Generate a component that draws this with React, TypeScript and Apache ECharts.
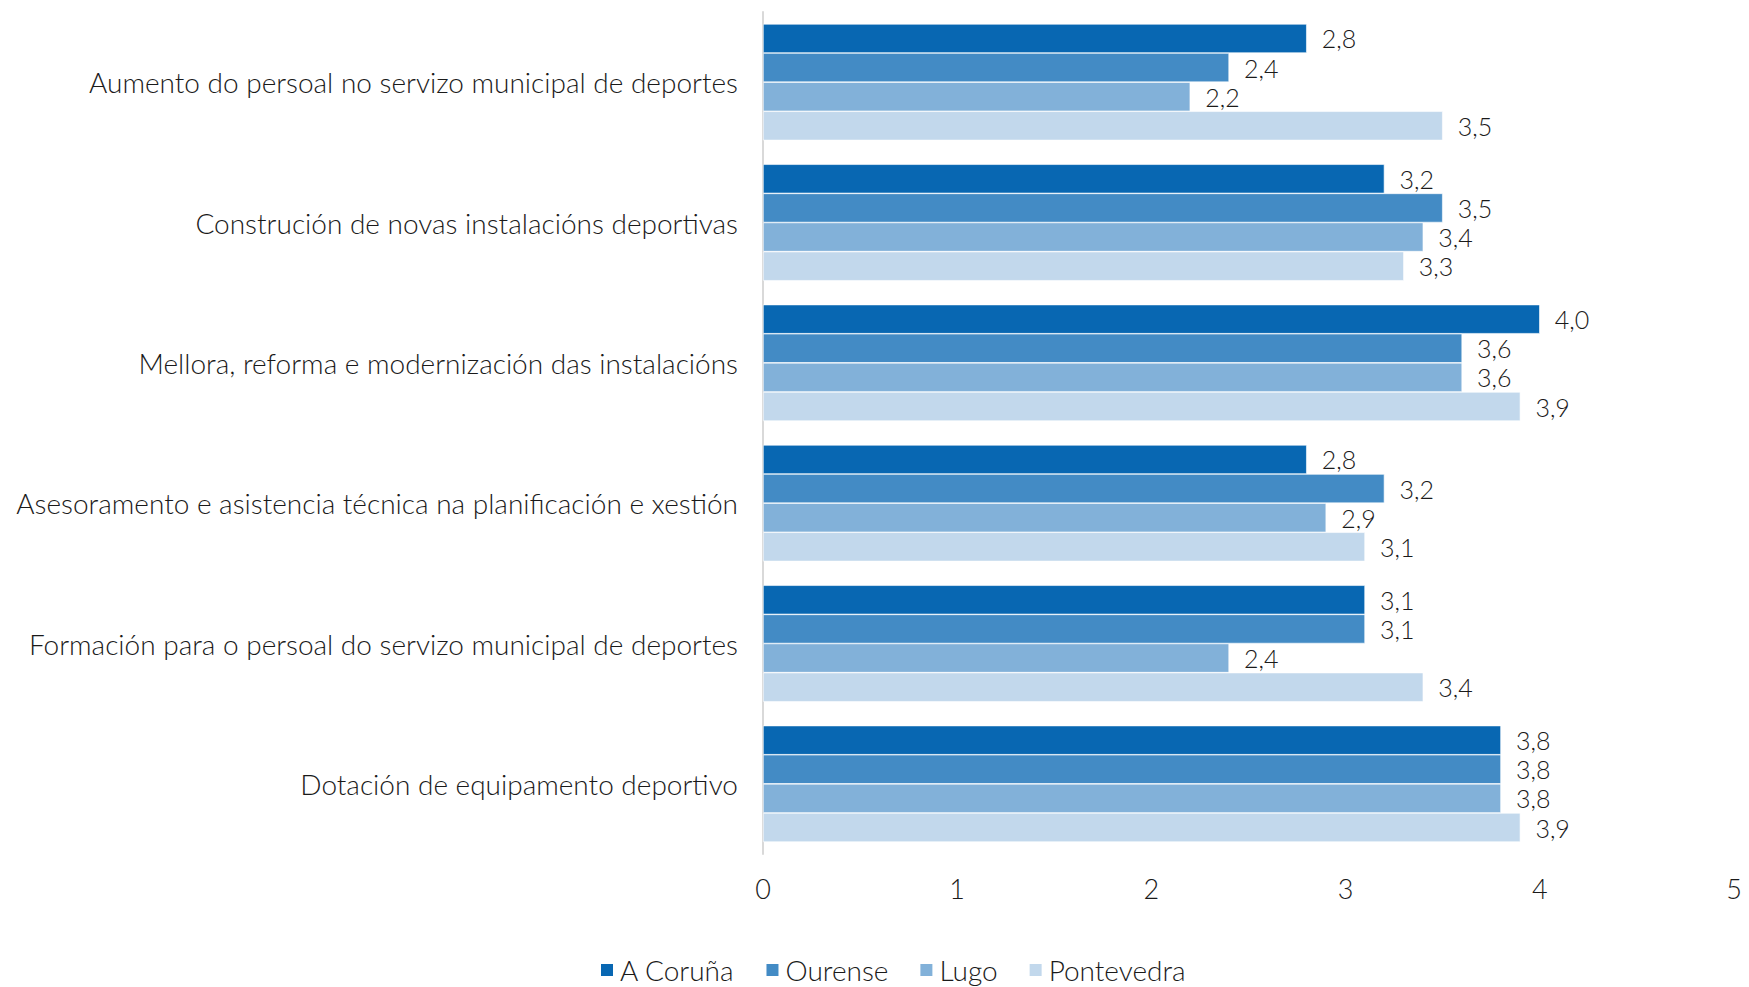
import React, { useEffect, useRef } from "react";
import * as echarts from "echarts";

const categories = [
  "Aumento do persoal no servizo municipal de deportes",
  "Construción de novas instalacións deportivas",
  "Mellora, reforma e modernización das instalacións",
  "Asesoramento e asistencia técnica na planificación e xestión",
  "Formación para o persoal do servizo municipal de deportes",
  "Dotación de equipamento deportivo",
];

const seriesNames = ["A Coruña", "Ourense", "Lugo", "Pontevedra"];
const coruna = [2.8, 3.2, 4.0, 2.8, 3.1, 3.8];
const ourense = [2.4, 3.5, 3.6, 3.2, 3.1, 3.8];
const lugo = [2.2, 3.4, 3.6, 2.9, 2.4, 3.8];
const pontevedra = [3.5, 3.3, 3.9, 3.1, 3.4, 3.9];
const colors = ["#0867B2", "#438BC5", "#82B1D9", "#C2D8EC"];
const xTicks = [0, 1, 2, 3, 4, 5];

const FONT = "Lato";

export default function App() {
  const ref = useRef<HTMLDivElement>(null);

  useEffect(() => {
    document.body.style.margin = "0";
    if (!ref.current) return;
    const chart = echarts.init(ref.current, undefined, { renderer: "svg" });
    const values = [coruna, ourense, lugo, pontevedra];
    chart.setOption({
      animation: false,
      textStyle: { fontFamily: FONT, fontWeight: 300 },
      grid: { left: 763, right: 15, top: 12, bottom: 133, containLabel: false },
      legend: {
        top: 951,
        left: 594,
        itemWidth: 14,
        itemHeight: 14,
        itemGap: 30,
        icon: "rect",
        textStyle: { fontSize: 28, fontFamily: FONT, fontWeight: 300, color: "#1a1a1a", padding: [0, 0, 0, 1] },
        data: seriesNames,
      },
      xAxis: {
        type: "value",
        min: xTicks[0],
        max: xTicks[xTicks.length - 1],
        interval: 1,
        axisLine: { show: false },
        axisTick: { show: false },
        splitLine: { show: false },
        axisLabel: { fontSize: 27, fontFamily: FONT, fontWeight: 300, color: "#1a1a1a", margin: 21 },
      },
      yAxis: {
        type: "category",
        inverse: true,
        data: categories,
        axisLine: { show: true, lineStyle: { color: "#D9D9D9", width: 2 } },
        axisTick: { show: false },
        axisLabel: { fontSize: 28, fontFamily: FONT, fontWeight: 300, color: "#1a1a1a", margin: 25 },
      },
      series: values.map((data, i) => ({
        name: seriesNames[i],
        type: "bar",
        data,
        barGap: "0%",
        barCategoryGap: "17%",
        itemStyle: { color: colors[i], borderColor: "#ffffff", borderWidth: 0.6 },
        label: {
          show: true,
          position: "right",
          distance: 15,
          fontSize: 25,
          fontFamily: FONT,
          fontWeight: 300,
          color: "#1a1a1a",
          formatter: (p: any) => p.value.toFixed(1).replace(".", ","),
        },
      })),
    });
    return () => chart.dispose();
  }, []);

  return <div ref={ref} style={{ width: 1749, height: 987 }} />;
}
